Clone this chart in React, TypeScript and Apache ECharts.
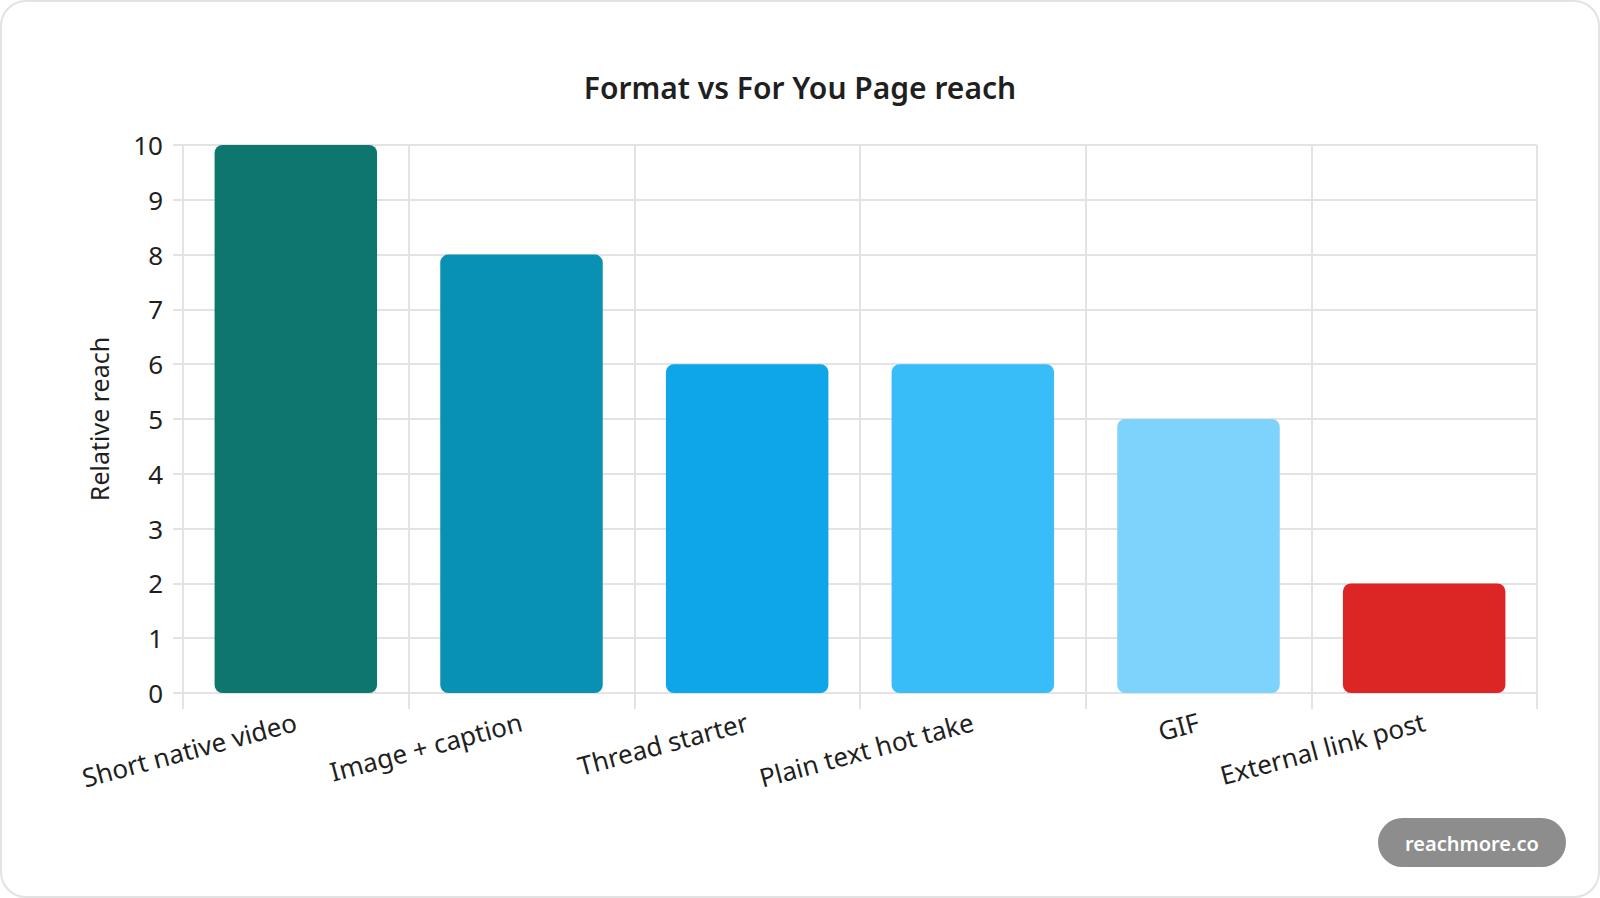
import { useEffect, useRef } from "react";
import * as echarts from "echarts";

const categories = [
  "Short native video",
  "Image + caption",
  "Thread starter",
  "Plain text hot take",
  "GIF",
  "External link post",
];
const reachValues = [10, 8, 6, 6, 5, 2];
const barColors = ["#0F766E", "#0891B2", "#0EA5E9", "#38BDF8", "#7DD3FC", "#DC2626"];

const FONT = "'Noto Sans', 'Open Sans', sans-serif";
const GRID_COLOR = "#e3e3e3";

export default function App() {
  const chartRef = useRef<HTMLDivElement>(null);

  useEffect(() => {
    document.body.style.margin = "0";
    if (!chartRef.current) return;
    const chart = echarts.init(chartRef.current, undefined, { renderer: "svg" });

    const option: echarts.EChartsOption = {
      animation: false,
      textStyle: { fontFamily: FONT },
      title: {
        text: "Format vs For You Page reach",
        left: "center",
        top: 67,
        textStyle: { fontFamily: FONT, fontSize: 30, fontWeight: 600, color: "#1f1f1f" },
      },
      grid: { left: 183, right: 63, top: 145, bottom: 205, containLabel: false },
      xAxis: {
        type: "category",
        data: categories,
        axisLine: { show: true, lineStyle: { color: GRID_COLOR, width: 2 } },
        axisTick: { show: true, length: 16, lineStyle: { color: GRID_COLOR, width: 2 } },
        splitLine: { show: true, lineStyle: { color: GRID_COLOR, width: 2 } },
        axisLabel: {
          rotate: 15,
          fontSize: 26,
          color: "#1f1f1f",
          margin: 28,
          fontFamily: FONT,
        },
      },
      yAxis: {
        type: "value",
        min: 0,
        max: 10,
        interval: 1,
        name: "Relative reach",
        nameLocation: "middle",
        nameGap: 72,
        nameTextStyle: { fontSize: 25, color: "#1f1f1f", fontFamily: FONT },
        axisLine: { show: false },
        axisTick: { show: true, length: 10, lineStyle: { color: GRID_COLOR, width: 2 } },
        splitLine: { show: true, lineStyle: { color: GRID_COLOR, width: 2 } },
        axisLabel: { fontSize: 26, color: "#1f1f1f", margin: 20, fontFamily: FONT },
      },
      series: [
        {
          type: "bar",
          barCategoryGap: "28%",
          data: reachValues.map((v, i) => ({
            value: v,
            itemStyle: { color: barColors[i], borderRadius: 8 },
          })),
        },
      ],
      graphic: [
        {
          type: "group",
          left: 1378,
          top: 818,
          children: [
            {
              type: "rect",
              shape: { x: 0, y: 0, width: 188, height: 49, r: 24.5 },
              style: { fill: "#8d8d8d" },
            },
            {
              type: "text",
              x: 94,
              y: 25,
              style: {
                text: "reachmore.co",
                fill: "#ffffff",
                fontSize: 20,
                fontWeight: 600,
                fontFamily: FONT,
                align: "center",
                verticalAlign: "middle",
              },
            },
          ],
        },
      ],
    };

    chart.setOption(option);
    return () => {
      chart.dispose();
    };
  }, []);

  return (
    <div
      style={{
        position: "absolute",
        left: 0,
        top: 0,
        width: 1600,
        height: 898,
        boxSizing: "border-box",
        border: "2px solid #e2e2e2",
        borderRadius: 26,
        background: "#ffffff",
      }}
    >
      <div
        ref={chartRef}
        style={{ position: "absolute", left: -2, top: -2, width: 1600, height: 898 }}
      />
    </div>
  );
}
